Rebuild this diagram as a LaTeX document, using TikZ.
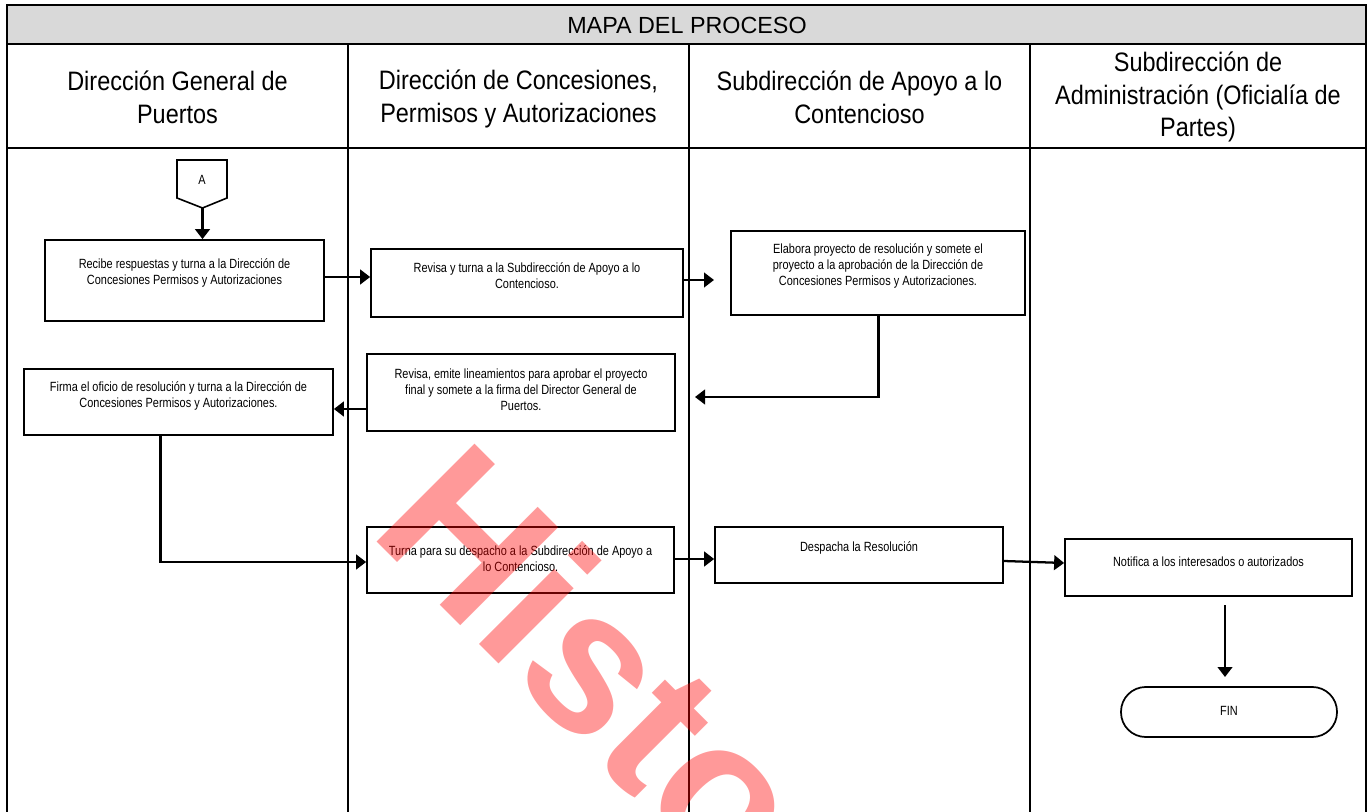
\documentclass[tikz,border=0pt]{standalone}
\usepackage{fontspec}
\setmainfont{Liberation Sans}
\newfontfamily\narrowfont[FakeStretch=0.82]{Liberation Sans}
\newfontfamily\headfont[FakeStretch=0.88]{Liberation Sans}
\usetikzlibrary{arrows.meta,fit}
\definecolor{titlegray}{RGB}{217,217,217}
\tikzset{
  lane/.style={line width=1.4pt},
  box/.style={draw, line width=1.3pt, inner sep=0pt},
  arr/.style={line width=1.7pt, -{Triangle[length=7.5pt,width=11pt]}},
  txt/.style={font=\narrowfont\fontsize{10}{11.9}\selectfont, align=center, inner sep=0pt},
  head/.style={font=\headfont\fontsize{20}{24.5}\selectfont, align=center, inner sep=0pt},
  wmark/.style={text=red, opacity=0.4, inner sep=0pt, anchor=base west, rotate=-45,
    font=\fontsize{151}{151}\selectfont\bfseries}
}
\begin{document}
\begin{tikzpicture}[x=0.75pt,y=-0.75pt]
\useasboundingbox (0,0) rectangle (1367,812);
% frame and lanes
\fill[titlegray] (7,5) rectangle (1366,44);
\draw[lane] (7,812) -- (7,5) -- (1366,5) -- (1366,812);
\draw[lane] (7,44) -- (1366,44);
\draw[lane] (7,148) -- (1366,148);
\draw[lane] (348,44) -- (348,812);
\draw[lane] (689,44) -- (689,812);
\draw[lane] (1030,44) -- (1030,812);
% headers
\node[font=\fontsize{17.5}{20}\selectfont, inner sep=0pt] (title) at (687,25) {MAPA DEL PROCESO};
\node[head] (h1) at (177.5,97) {Dirección General de\\Puertos};
\node[head] (h2) at (518.5,99) {Dirección de Concesiones,\\Permisos y Autorizaciones};
\node[head] (h3) at (859.5,97) {Subdirección de Apoyo a lo\\Contencioso};
\node[head] (h4) at (1198,97) {Subdirección de\\Administración (Oficialía de\\Partes)};
% off-page connector A
\draw[line width=1.2pt] (177,160) -- (227,160) -- (227,198) -- (202.5,208) -- (177,198) -- cycle;
\coordinate (conA) at (202.5,208);
\node[txt] (tA) at (202,180) {A};
% boxes
\node[box, fit={(45,240) (324,321)}] (b1) {};
\node[txt] (t1) at (184.5,273) {Recibe respuestas y turna a la Dirección de\\Concesiones Permisos y Autorizaciones};
\node[box, fit={(371,249) (683,317)}] (b3) {};
\node[txt] (t3) at (527,276) {Revisa y turna a la Subdirección de Apoyo a lo\\Contencioso.};
\node[box, fit={(731,231) (1025,315)}] (b4) {};
\node[txt] (t4) at (878,266) {Elabora proyecto de resolución y somete el\\proyecto a la aprobación de la Dirección de\\Concesiones Permisos y Autorizaciones.};
\node[box, fit={(367,354) (675,431)}] (b6) {};
\node[txt] (t6) at (521,390) {Revisa, emite lineamientos para aprobar el proyecto\\final y somete a la firma del Director General de\\Puertos.};
\node[box, fit={(24,369) (333,435)}] (b7) {};
\node[txt] (t7) at (178.5,396) {Firma el oficio de resolución y turna a la Dirección de\\Concesiones Permisos y Autorizaciones.};
\node[box, fit={(367,527) (674,593)}] (b9) {};
\node[txt] (t9) at (520.5,559) {Turna para su despacho a la Subdirección de Apoyo a\\lo Contencioso.};
\node[box, fit={(715,527) (1003,583)}] (b10) {};
\node[txt] (t10) at (859,548) {Despacha la Resolución};
\node[box, fit={(1065,539) (1352,596)}] (b11) {};
\node[txt] (t11) at (1208.5,562) {Notifica a los interesados o autorizados};
\node[box, rounded corners=18.5pt, fit={(1121,687) (1337,737)}] (fin) {};
\node[txt] (tfin) at (1229,711) {FIN};
% helper coordinates
\coordinate (y277) at (0,277);
\coordinate (y280) at (0,280);
\coordinate (e3) at (714,280);
\coordinate (x878) at (878.5,0);
\coordinate (e4) at (695,397);
\coordinate (y409) at (0,409);
\coordinate (x160) at (160.5,0);
\coordinate (y562) at (0,562);
\coordinate (y559) at (0,559);
\coordinate (y561) at (0,561);
\coordinate (y563) at (0,563);
\coordinate (s9) at (1225,605);
\coordinate (e9) at (1225,677);
% connectors
\draw[arr] (conA) -- (conA |- b1.north);
\draw[arr] (b1.east |- y277) -- (b3.west |- y277);
\draw[arr] (b3.east |- y280) -- (e3);
\draw[arr] (x878 |- b4.south) |- (e4);
\draw[arr] (b6.west |- y409) -- (b7.east |- y409);
\draw[arr] (x160 |- b7.south) |- (b9.west |- y562);
\draw[arr] (b9.east |- y559) -- (b10.west |- y559);
\draw[arr] (b10.east |- y561) -- (b11.west |- y563);
\draw[arr] (s9) -- (e9);
% watermark
\begin{scope}
\clip (0,0) rectangle (1367,812);
\node[wmark] (wm) at (367,532) {Historico};
\end{scope}
\end{tikzpicture}
\end{document}
